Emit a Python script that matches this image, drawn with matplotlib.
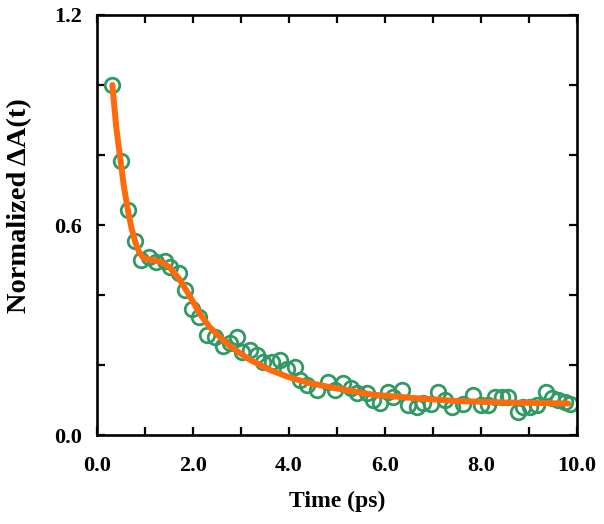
import matplotlib as mpl
mpl.use('Agg')
import matplotlib.pyplot as plt
from matplotlib.ticker import MultipleLocator, FormatStrFormatter

# measured points (time in ps, normalized dA)
t_data = [0.32, 0.49, 0.64, 0.79, 0.91, 1.09, 1.23, 1.42, 1.52, 1.71,
          1.83, 1.97, 2.12, 2.29, 2.46, 2.63, 2.77, 2.91, 3.02, 3.19,
          3.33, 3.46, 3.64, 3.81, 3.95, 4.13, 4.23, 4.37, 4.58, 4.82,
          4.96, 5.13, 5.30, 5.41, 5.62, 5.76, 5.90, 6.06, 6.17, 6.35,
          6.48, 6.66, 6.80, 6.95, 7.11, 7.25, 7.39, 7.63, 7.84, 8.01,
          8.15, 8.29, 8.43, 8.57, 8.78, 8.88, 9.02, 9.16, 9.35, 9.47,
          9.61, 9.75, 9.85]
dA_data = [1.000, 0.783, 0.643, 0.553, 0.500, 0.509, 0.494, 0.498, 0.480, 0.463,
           0.414, 0.360, 0.337, 0.286, 0.280, 0.255, 0.262, 0.281, 0.238, 0.243,
           0.229, 0.210, 0.210, 0.214, 0.190, 0.195, 0.157, 0.143, 0.129, 0.152,
           0.129, 0.148, 0.134, 0.120, 0.120, 0.100, 0.091, 0.124, 0.110, 0.129,
           0.086, 0.081, 0.091, 0.090, 0.124, 0.100, 0.081, 0.090, 0.114, 0.086,
           0.086, 0.110, 0.110, 0.110, 0.067, 0.081, 0.081, 0.086, 0.124, 0.105,
           0.100, 0.095, 0.090]

# fitted curve
t_fit = [0.32, 0.40, 0.49, 0.56, 0.64, 0.72, 0.80, 0.88, 0.96, 1.05,
         1.20, 1.35, 1.52, 1.73, 1.94, 2.15, 2.35, 2.56, 2.77, 3.00,
         3.20, 3.60, 4.00, 4.44, 5.00, 5.76, 6.66, 7.50, 8.50, 9.82]
dA_fit = [1.000, 0.880, 0.785, 0.710, 0.645, 0.590, 0.550, 0.522, 0.507, 0.502,
          0.499, 0.494, 0.478, 0.443, 0.395, 0.345, 0.308, 0.280, 0.254, 0.232,
          0.214, 0.186, 0.165, 0.148, 0.133, 0.115, 0.105, 0.097, 0.093, 0.090]

plt.rcParams['font.family'] = ['Liberation Serif', 'DejaVu Serif']
plt.rcParams['font.weight'] = 'bold'

fig = plt.figure(figsize=(6.04, 5.24), dpi=100)
ax = fig.add_axes([0.1606, 0.1698, 0.7947, 0.8016])

ax.plot(t_data, dA_data, 'o', mfc='none', mec='#2f9a64', ms=10.5, mew=2.0, zorder=2)
ax.plot(t_fit, dA_fit, '-', color='#ff6a0d', lw=4.3, solid_capstyle='round', zorder=3)

ax.set_xlim(0, 10)
ax.set_ylim(0, 1.2)
ax.xaxis.set_major_locator(MultipleLocator(2))
ax.xaxis.set_minor_locator(MultipleLocator(1))
ax.yaxis.set_major_locator(MultipleLocator(0.6))
ax.yaxis.set_minor_locator(MultipleLocator(0.2))
ax.xaxis.set_major_formatter(FormatStrFormatter('%.1f'))
ax.yaxis.set_major_formatter(FormatStrFormatter('%.1f'))

ax.tick_params(which='both', direction='in', top=True, right=True,
               length=6, width=1.6, labelsize=16)
ax.tick_params(axis='x', pad=15)
ax.tick_params(axis='y', pad=11)
for s in ax.spines.values():
    s.set_linewidth(1.9)

ax.set_xlabel('Time (ps)', fontsize=17, fontweight='bold', labelpad=11)
ax.set_ylabel('Normalized \u0394A(t)', fontsize=20.5, fontweight='bold')
ax.yaxis.set_label_coords(-0.135, 0.545)

fig.savefig('out.png', dpi=100)
